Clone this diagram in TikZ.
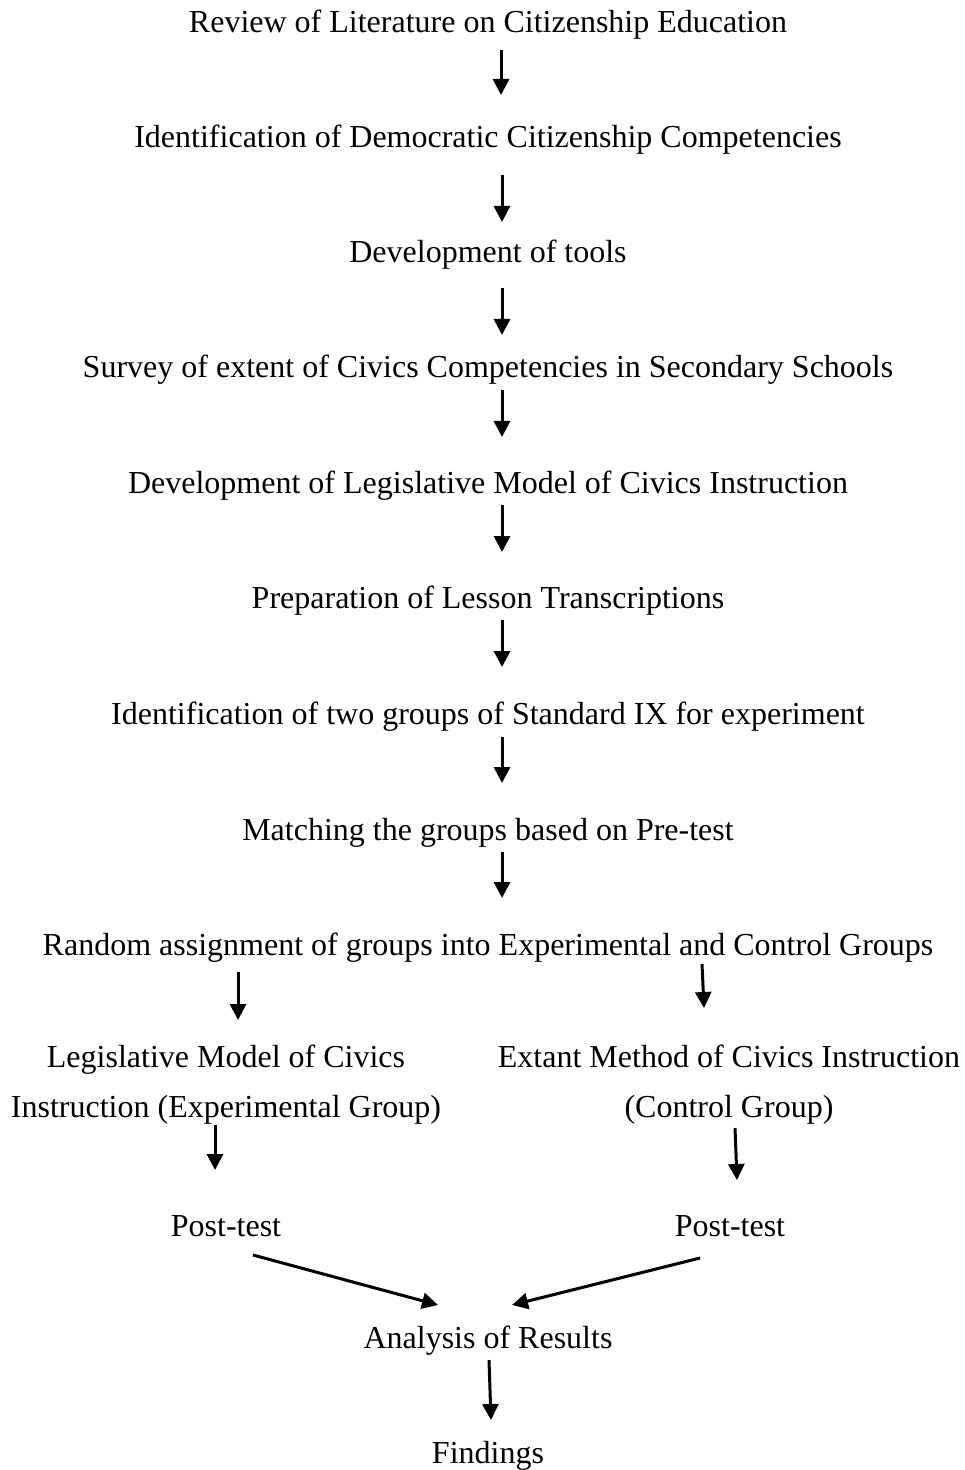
\documentclass[tikz,border=0pt]{standalone}
\usepackage{fontspec}
\setmainfont{Liberation Serif}
\usetikzlibrary{arrows.meta}
\begin{document}
\begin{tikzpicture}[x=0.5pt,y=-0.5pt,>={Triangle[length=8pt,width=8pt]},line width=1.5pt,
  every node/.style={font=\fontsize{16}{25}\selectfont,inner sep=0pt}]
  \useasboundingbox (0,0) rectangle (964,1470);
  % main column of steps
  \foreach \n/\y/\t in {review/25/Review of Literature on Citizenship Education,
      ident/140/Identification of Democratic Citizenship Competencies,
      tools/255/Development of tools,
      survey/370/Survey of extent of Civics Competencies in Secondary Schools,
      model/486/Development of Legislative Model of Civics Instruction,
      lesson/601/Preparation of Lesson Transcriptions,
      groups/717/Identification of two groups of Standard IX for experiment,
      match/833/Matching the groups based on Pre-test,
      random/948/Random assignment of groups into Experimental and Control Groups,
      analysis/1341/Analysis of Results,
      findings/1456/Findings}
    \node (\n) at (488,\y) {\t};
  % the two branches
  \node[align=center] (expt) at (226,1085) {Legislative Model of Civics\\Instruction (Experimental Group)};
  \node[align=center] (ctrl) at (729,1085) {Extant Method of Civics Instruction\\(Control Group)};
  \node (postl) at (226,1226) {Post-test};
  \node (postr) at (730,1226) {Post-test};
  % arrows
  \foreach \i/\xa/\ya/\xb/\yb in {1/501/50/501/95, 2/502/175/502/222, 3/502/288/502/335,
      4/502/390/502/437, 5/502/505/502/552, 6/502/620/502/667, 7/502/737/502/783,
      8/502/852/502/898, 9/238/972/238/1020, 10/702/964/704/1008, 11/215/1125/215/1170,
      12/735/1128/737/1180, 13/253/1255/438/1305, 14/700/1258/512/1305, 15/489/1360/491/1420}
  {
    \coordinate (t\i) at (\xa,\ya);
    \coordinate (h\i) at (\xb,\yb);
    \draw[->] (t\i) -- (h\i);
  }
\end{tikzpicture}
\end{document}
